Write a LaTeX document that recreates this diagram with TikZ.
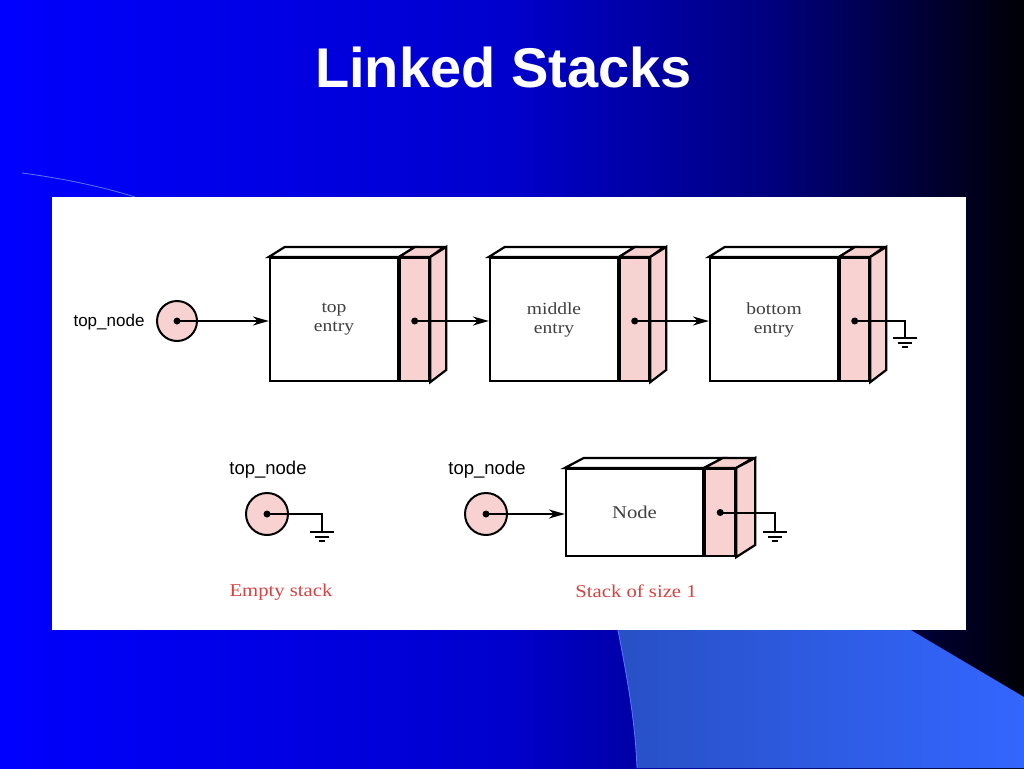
\documentclass[tikz,border=0pt]{standalone}
\usepackage{fontspec}
\setmainfont[FakeStretch=1.15]{Liberation Serif}
\newfontfamily\sansfnt{Liberation Sans}
\usetikzlibrary{arrows.meta}

\definecolor{pinkfill}{RGB}{248,210,208}
\definecolor{redtext}{RGB}{214,66,66}
\definecolor{greytext}{RGB}{64,64,64}
\definecolor{wedgeL}{RGB}{40,80,196}
\definecolor{wedgeR}{RGB}{51,102,255}
\definecolor{edgeblue}{RGB}{90,120,255}
\pgfdeclarehorizontalshading{slidebg}{100bp}{rgb(0bp)=(0,0,1); rgb(25bp)=(0,0,1);
  rgb(50bp)=(0,0,0.8); rgb(62.5bp)=(0,0,0.5); rgb(75bp)=(0,0,0.02); rgb(100bp)=(0,0,0.02)}

\tikzset{
  gnd/.pic={
    \draw[line width=2pt] (-12,0) -- (12,0) (-7,4.5) -- (7,4.5) (-3,9) -- (3,9);
  }
}

\begin{document}
\begin{tikzpicture}[x=1pt,y=-1pt,
    box/.style={draw, line width=2.2pt, inner sep=0pt, text=greytext, align=center,
      font=\fontsize{17}{19}\selectfont},
    pinkbox/.style={box, fill=pinkfill},
    face/.style={draw, line width=2.2pt, line join=miter},
    ptrcirc/.style={circle, draw, fill=pinkfill, line width=2pt, inner sep=0pt},
    dot/.style={circle, fill=black, inner sep=0pt, minimum size=7pt},
    wire/.style={line width=2pt},
    ptr/.style={wire, -{Stealth[length=16pt,width=9pt,inset=5pt]}},
    lbl/.style={font=\sansfnt\fontsize{17}{19}\selectfont},
    caption/.style={text=redtext, font=\fontsize{18}{20}\selectfont}]
  \useasboundingbox (0,0) rectangle (1024,768);
  % Slide background
  \shade[shading=slidebg] (0,0) rectangle (1024,768);
  \shade[left color=wedgeL, right color=wedgeR] (612,600) .. controls (628,680) and (635,720) .. (637,768)
    -- (1024,768) -- (1024,697) -- (860,600) -- cycle;
  \draw[edgeblue, line width=0.8pt] (612,600) .. controls (628,680) and (635,720) .. (637,768);
  \draw[edgeblue, line width=0.8pt] (22,173) .. controls (60,178) and (100,186) .. (135,197);
  \node[anchor=base, text=white, font=\sansfnt\bfseries\fontsize{56}{60}\selectfont] (title)
    at (503.5,87) {Linked Stacks};
  \fill[white] (52,197) rectangle (966,630);

  % Stack with three entries
  \node[ptrcirc, minimum size=40pt] (top) at (177,321) {};
  \node[dot] (d0) at (top.center) {};
  \node[lbl, anchor=east] (toplbl) at (148,322) {top\_node};
  \foreach \n/\x/\txt in {1/334/top\\entry, 2/554/middle\\entry, 3/774/bottom\\entry} {
    \node[box, fill=white, minimum width=128pt, minimum height=123pt] (e\n) at (\x,319.5) {\txt};
    \node[pinkbox, minimum width=29pt, minimum height=123pt, anchor=west] (e\n p) at (e\n.east) {};
    \draw[face, fill=white] (e\n.north west) -- ++(16,-10) -- ([shift={(16,-10)}]e\n p.north west)
      -- (e\n p.north west) -- cycle;
    \draw[face, fill=pinkfill] (e\n p.north west) -- ++(16,-10) -- ++(29,0) -- (e\n p.north east) -- cycle;
    \draw[face, fill=pinkfill] (e\n p.north east) -- ++(16,-10) -- ++(0,123) -- (e\n p.south east) -- cycle;
    \node[dot] (d\n) at ([yshift=-1.5]e\n p.center) {};
  }
  \draw[ptr] (d0.center) -- (e1.west |- d0);
  \draw[ptr] (d1.center) -- (e2.west |- d1);
  \draw[ptr] (d2.center) -- (e3.west |- d2);
  \coordinate (g3) at (905,338);
  \draw[wire] (d3.center) -| (g3);
  \pic at (g3) {gnd};

  % Empty stack
  \node[ptrcirc, minimum size=42pt] (empty) at (267,514) {};
  \node[dot] (d4) at (empty.center) {};
  \node[lbl, font=\sansfnt\fontsize{18.5}{20}\selectfont] (emptylbl) at (268,470) {top\_node};
  \coordinate (g4) at (322,532);
  \draw[wire] (d4.center) -| (g4);
  \pic at (g4) {gnd};
  \node[caption] (emptycap) at (281,592) {Empty stack};

  % Stack of size 1
  \node[ptrcirc, minimum size=42pt] (one) at (486,514) {};
  \node[dot] (d5) at (one.center) {};
  \node[lbl, font=\sansfnt\fontsize{18.5}{20}\selectfont] (onelbl) at (487,470) {top\_node};
  \node[box, fill=white, minimum width=137pt, minimum height=87pt, font=\fontsize{18}{20}\selectfont]
    (e4) at (634.5,512.5) {Node};
  \node[pinkbox, minimum width=30pt, minimum height=87pt, anchor=west] (e4p) at (e4.east) {};
  \draw[face, fill=white] (e4.north west) -- ++(19,-10) -- ([shift={(19,-10)}]e4p.north west)
    -- (e4p.north west) -- cycle;
  \draw[face, fill=pinkfill] (e4p.north west) -- ++(19,-10) -- ++(30,0) -- (e4p.north east) -- cycle;
  \draw[face, fill=pinkfill] (e4p.north east) -- ++(19,-10) -- ++(0,87) -- (e4p.south east) -- cycle;
  \node[dot] (d6) at (e4p.center) {};
  \draw[ptr] (d5.center) -- (e4.west |- d5);
  \coordinate (g6) at (775,532);
  \draw[wire] (d6.center) -| (g6);
  \pic at (g6) {gnd};
  \node[caption] (onecap) at (636,591) {Stack of size 1};
\end{tikzpicture}
\end{document}
